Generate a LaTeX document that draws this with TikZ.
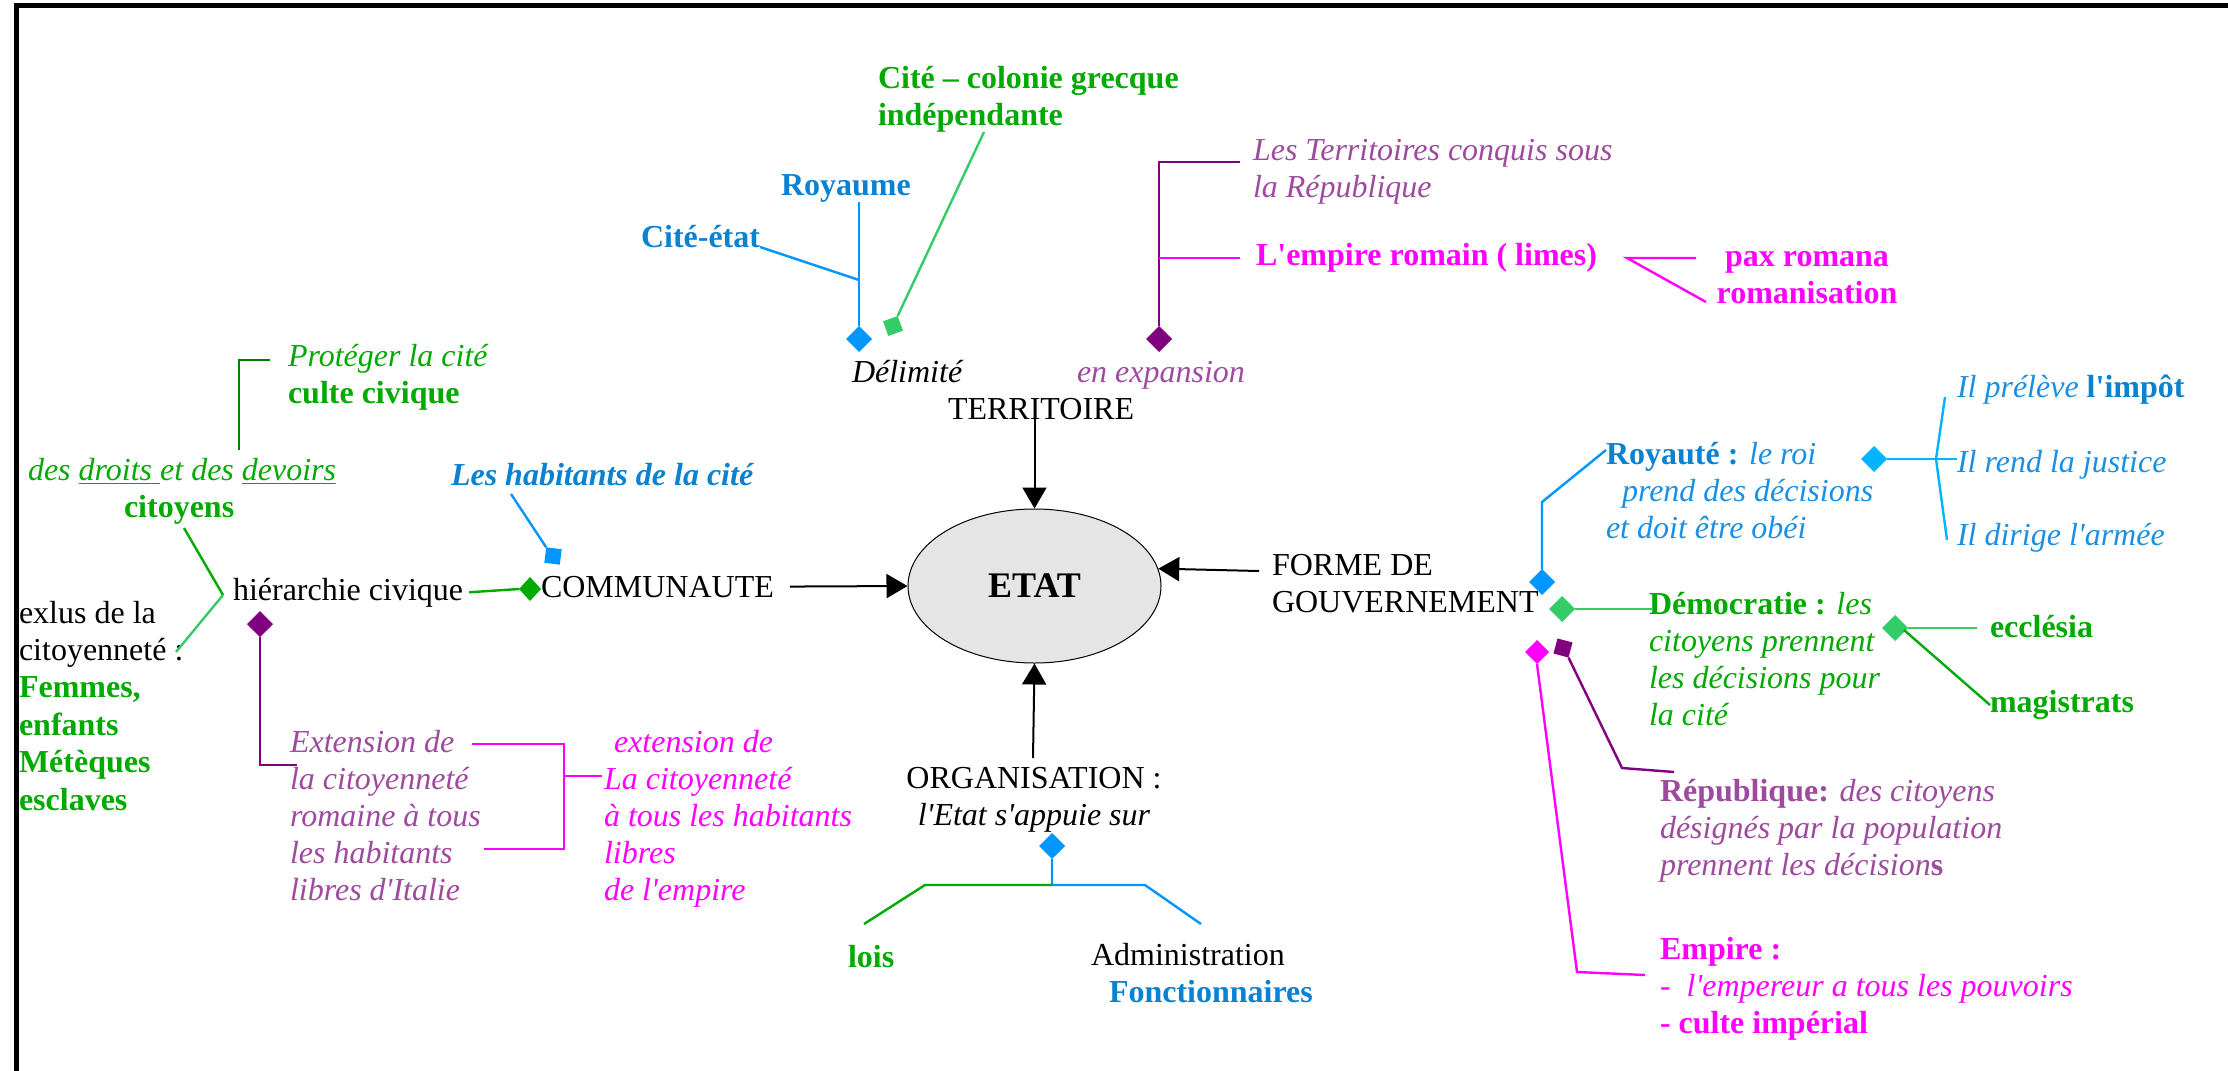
\documentclass[tikz,border=0pt]{standalone}
\usepackage{fontspec}
\setmainfont{Liberation Serif}[Ligatures=TeXOff]
\usetikzlibrary{shapes.geometric,arrows.meta,calc}
\definecolor{cGreen}{HTML}{00AA00}
\definecolor{cGreenL}{HTML}{33CC66}
\definecolor{cGreenD}{HTML}{008000}
\definecolor{cBlueT}{HTML}{0A82D2}
\definecolor{cBlueI}{HTML}{1A8FE3}
\definecolor{cBlueL}{HTML}{0096FF}
\definecolor{cCyan}{HTML}{00B4FF}
\definecolor{cPurp}{HTML}{800080}
\definecolor{cPurpT}{HTML}{9E4A9E}
\definecolor{cMag}{HTML}{FF00FF}
\begin{document}
\begin{tikzpicture}[x=0.5pt,y=-0.5pt,
  txt/.style={inner sep=0pt, outer sep=0pt, anchor=base west, align=left, font=\fontsize{16}{18.5}\selectfont},
  dia/.style={diamond, inner sep=0pt, outer sep=0pt, minimum width=13pt, minimum height=13pt, draw=none},
  arr/.style={line width=1pt, -{Triangle[length=10.5pt,width=12pt]}},
  ln/.style={line width=1.2pt}]
\useasboundingbox (0,0) rectangle (2228,1071);
% frame
\draw[line width=2.6pt] (16.5,1071) -- (16.5,5.5) -- (2228,5.5);

% centre
\node[ellipse, draw=black, line width=0.5pt, fill=black!10, minimum width=126.5pt, minimum height=77pt, inner sep=0pt, font=\fontsize{18}{20}\selectfont\bfseries] (etat) at (1034.5,586) {ETAT};

% main labels (multi-line nodes are placed at the baseline of their last line)
\node[txt] (territoire) at (948,419) {TERRITOIRE};
\node[txt] (forme) at (1272,612) {FORME DE\\GOUVERNEMENT};
\node[txt] (communaute) at (541,597) {COMMUNAUTE};
\node[txt, anchor=base, align=center] (organisation) at (1034,825) {ORGANISATION :\\\textit{l'Etat s'appuie sur}};

% arrows
\coordinate (fA) at (1259,571);
\coordinate (oA) at (1033,758);
\draw[arr] (territoire.south -| etat.north) -- (etat.north);
\draw[arr] ([xshift=8pt]communaute.east) -- (etat.west);
\draw[arr] (fA) -- (etat.8);
\draw[arr] (oA) -- (etat.south);

% ---------- TERRITOIRE ----------
\node[txt, text=cGreen, font=\fontsize{16}{18.5}\selectfont\bfseries] (colonie) at (878,125) {Cité – colonie grecque\\indépendante};
\node[txt, text=cBlueT, font=\fontsize{16}{18.5}\selectfont\bfseries] (royaume) at (781,195) {Royaume};
\node[txt, text=cBlueT, font=\fontsize{16}{18.5}\selectfont\bfseries] (citeetat) at (641,247) {Cité-état};
\node[txt, font=\fontsize{16}{18.5}\selectfont\itshape] (delimite) at (852,382) {Délimité};
\node[txt, text=cPurpT, font=\fontsize{16}{18.5}\selectfont\itshape] (expansion) at (1077,382) {en expansion};
\node[txt, text=cPurpT, font=\fontsize{16}{18.5}\selectfont\itshape] (conquis) at (1253,197) {Les Territoires conquis sous\\la République};
\node[txt, text=cMag, font=\fontsize{16}{18.5}\selectfont\bfseries] (empire) at (1256,265) {L'empire romain ( limes)};
\node[txt, text=cMag, anchor=base, align=center, font=\fontsize{16}{18.5}\selectfont\bfseries] (pax) at (1807,303) {pax romana\\romanisation};

\coordinate (jR) at (859,280);
\coordinate (cC) at (984,132);
\coordinate (cT1) at (1240,162);
\coordinate (cT2) at (1240,258);
\coordinate (pA) at (1627,258);
\coordinate (pB) at (1696,258);
\coordinate (pC) at (1706,302);
\node[dia, fill=cBlueL] (dRoy) at (859,339) {};
\node[dia, fill=cGreenL, rotate=-25, minimum width=11pt, minimum height=11pt] (dCol) at (893,326) {};
\node[dia, fill=cPurp] (dTer) at (1159,339) {};
\draw[ln, cBlueL] (royaume.south -| dRoy.north) -- (dRoy.north);
\draw[ln, cBlueL] (citeetat.base east) -- (jR);
\draw[ln, cGreenL] (cC) -- (dCol.north);
\draw[ln, cPurp] (dTer.north) |- (cT1);
\draw[ln, cMag] (dTer.north |- cT2) -- (cT2);
\draw[ln, cMag] (pB) -- (pA) -- (pC);

% ---------- COMMUNAUTE ----------
\node[txt] (hierarchie) at (233,600) {hiérarchie civique};
\node[txt, text=cBlueT, font=\fontsize{16}{18.5}\selectfont\bfseries\itshape] (habitants) at (451,485) {Les habitants de la cité};
\node[txt, text=cGreen] (proteger) at (288,403) {\textit{Protéger la cité}\\\textbf{culte civique}};
\node[txt, text=cGreen, font=\fontsize{16}{18.5}\selectfont\itshape] (droits) at (28,480) {des \underline{droits }et des \underline{devoirs}};
\node[txt, text=cGreen, font=\fontsize{16}{18.5}\selectfont\bfseries] (citoyens) at (124,517) {citoyens};
\node[txt, font=\fontsize{16}{18.7}\selectfont] (exclus) at (19,810) {exlus de la\\citoyenneté :\\\textcolor{cGreen}{\bfseries Femmes,}\\\textcolor{cGreen}{\bfseries enfants}\\\textcolor{cGreen}{\bfseries Métèques}\\\textcolor{cGreen}{\bfseries esclaves}};
\node[txt, text=cPurpT, font=\fontsize{16}{18.5}\selectfont\itshape] (extension) at (290,900) {Extension de\\la citoyenneté\\romaine à tous\\les habitants\\libres d'Italie};
\node[txt, text=cMag, font=\fontsize{16}{18.5}\selectfont\itshape] (extension2) at (604,900) {\hspace{5pt}extension de\\La citoyenneté\\à tous les habitants\\libres\\de l'empire};

\coordinate (g1) at (239,450);
\coordinate (g2) at (270,360);
\coordinate (c1) at (184,528);
\coordinate (c2) at (223,595);
\coordinate (c3) at (176,652);
\coordinate (h1) at (511,494);
\coordinate (x1) at (297,765);
\coordinate (eA) at (472,744);
\coordinate (eB) at (564,744);
\coordinate (eC) at (564,849);
\coordinate (eD) at (484,849);
\coordinate (eM) at (564,776);
\coordinate (eN) at (602,776);
\node[dia, fill=cGreen, minimum width=11pt, minimum height=12pt] (dHie) at (530,589) {};
\node[dia, fill=cBlueL, rotate=38, minimum width=11pt, minimum height=11pt] (dHab) at (553,556) {};
\node[dia, fill=cPurp] (dExt) at (260,624) {};
\draw[ln, cGreenD] (g1) |- (g2);
\draw[ln, cGreen] (c1) -- (c2);
\draw[ln, cGreenL] (c2) -- (c3);
\draw[ln, cGreen] ([xshift=3pt]hierarchie.east) -- (dHie.west);
\draw[ln, cBlueL] (h1) -- (dHab.north);
\draw[ln, cPurp] (dExt.south) |- (x1);
\draw[ln, cMag] (eA) -- (eB) -- (eC) -- (eD);
\draw[ln, cMag] (eM) -- (eN);

% ---------- ORGANISATION ----------
\node[txt, text=cGreen, font=\fontsize{16}{18.5}\selectfont\bfseries] (lois) at (848,967) {lois};
\node[txt] (admin) at (1091,965) {Administration};
\node[txt, text=cBlueT, font=\fontsize{16}{18.5}\selectfont\bfseries] (fonct) at (1109,1002) {Fonctionnaires};
\coordinate (oJ) at (1052,885);
\coordinate (oB1) at (1145,885);
\coordinate (oB2) at (1201,924);
\coordinate (oG1) at (925,885);
\coordinate (oG2) at (864,924);
\node[dia, fill=cBlueL] (dOrg) at (1052,846) {};
\draw[ln, cBlueL] (dOrg.south) -- (oJ) -- (oB1) -- (oB2);
\draw[ln, cGreen] (oJ) -- (oG1) -- (oG2);

% ---------- GOUVERNEMENT ----------
\node[txt, text=cBlueI] (royaute) at (1606,538) {\textcolor{cBlueT}{\bfseries Royauté :} \textit{le roi}\\\hspace{8pt}\textit{prend des décisions}\\\textit{et doit être obéi}};
\node[txt, text=cBlueI] (impot) at (1957,397) {\textit{Il prélève} \textcolor{cBlueT}{\bfseries l'impôt}};
\node[txt, text=cBlueI, font=\fontsize{16}{18.5}\selectfont\itshape] (justice) at (1957,472) {Il rend la justice};
\node[txt, text=cBlueI, font=\fontsize{16}{18.5}\selectfont\itshape] (armee) at (1957,545) {Il dirige l'armée};
\node[txt, text=cGreen] (democratie) at (1649,725) {\textbf{Démocratie :} \textit{les}\\\textit{citoyens prennent}\\\textit{les décisions pour}\\\textit{la cité}};
\node[txt, text=cGreen, font=\fontsize{16}{18.5}\selectfont\bfseries] (ecclesia) at (1990,637) {ecclésia};
\node[txt, text=cGreen, font=\fontsize{16}{18.5}\selectfont\bfseries] (magistrats) at (1990,712) {magistrats};
\node[txt, text=cPurpT] (republique) at (1660,875) {\textbf{République:} \textit{des citoyens}\\\textit{désignés par la population}\\\textit{prennent les décision}\textbf{s}};
\node[txt, text=cMag] (empireG) at (1660,1033) {\textbf{Empire :}\\-\ \ \textit{l'empereur a tous les pouvoirs}\\\textbf{- culte impérial}};

\coordinate (r1) at (1542,502);
\coordinate (r2) at (1606,450);
\coordinate (k0) at (1957,459);
\coordinate (k1) at (1945,397);
\coordinate (k2) at (1936,459);
\coordinate (k3) at (1947,540);
\coordinate (dm1) at (1653,609);
\coordinate (dd1) at (1977,628);
\coordinate (dd2) at (1904,630);
\coordinate (dd3) at (1990,705);
\coordinate (p1) at (1622,768);
\coordinate (p2) at (1674,772);
\coordinate (m1) at (1577,972);
\coordinate (m2) at (1645,975);
\node[dia, fill=cBlueL] (dGouvR) at (1542,582) {};
\node[dia, fill=cGreenL] (dGouvD) at (1562,609) {};
\node[dia, fill=cMag, minimum width=12pt, minimum height=12pt] (dGouvE) at (1537,652) {};
\node[dia, fill=cPurp, rotate=30, minimum width=11pt, minimum height=11pt] (dGouvP) at (1563,648) {};
\node[dia, fill=cCyan] (dRoyC) at (1874,459) {};
\node[dia, fill=cGreenL] (dDem) at (1895,628) {};
\draw[ln, cBlueL] (dGouvR.north) -- (r1) -- (r2);
\draw[ln, cCyan] (dRoyC.east) -- (k0);
\draw[ln, cCyan] (k1) -- (k2) -- (k3);
\draw[ln, cGreenL] (dGouvD.east) -- (dm1);
\draw[ln, cGreenL] (dDem.east) -- (dd1);
\draw[ln, cGreen] (dd2) -- (dd3);
\draw[ln, cPurp] (dGouvP.south) -- (p1) -- (p2);
\draw[ln, cMag] (dGouvE.south) -- (m1) -- (m2);
\end{tikzpicture}
\end{document}
